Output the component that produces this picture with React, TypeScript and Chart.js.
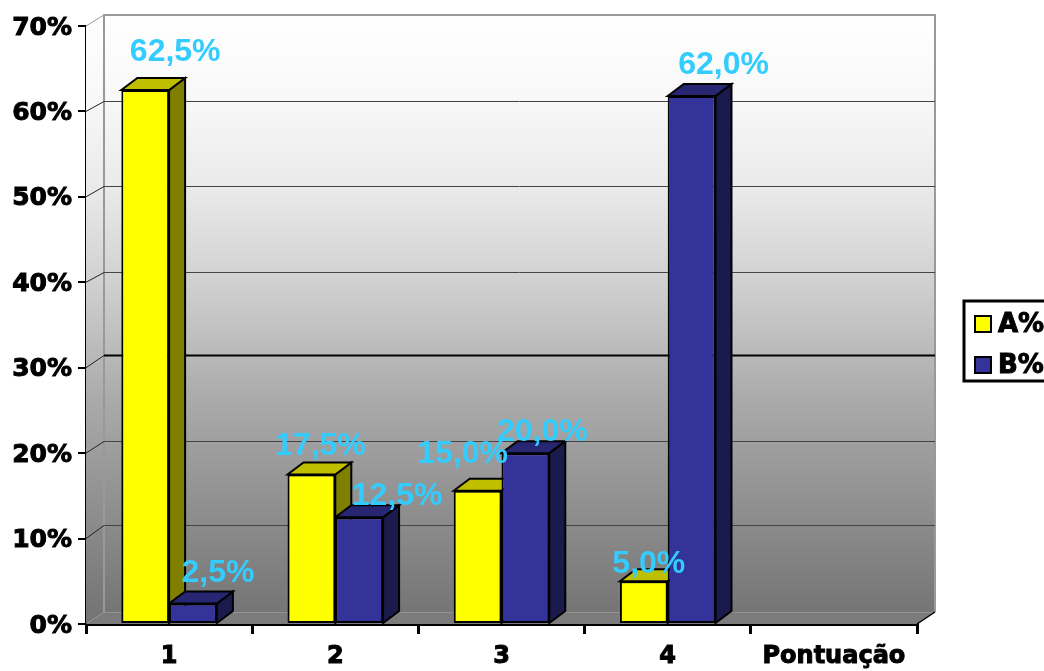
import React, { useEffect, useRef } from "react";
import { Chart, registerables } from "chart.js";

Chart.register(...registerables);

const categories = ["1", "2", "3", "4", "Pontuação"];
const seriesNames = ["A%", "B%"];
const valuesA = [62.5, 17.5, 15.6, 5, null];
const valuesB = [2.4, 12.5, 20, 61.8, null];
const labelsA = ["62,5%", "17,5%", "15,0%", "5,0%", ""];
const labelsB = ["2,5%", "12,5%", "20,0%", "62,0%", ""];
const gridValues = [10, 20, 30, 40, 50, 60];

// styling offsets, in pixels
const gridShift = [-13.6, -12, -12.7, -10.3, -10.9, -10.4];
const nudgeA = [[30, -29], [9, -20], [-15, -28], [5, -8]];
const nudgeB = [[25, -21], [38, -12], [17, -12], [32, -22]];

const FRONT = ["#FFFF00", "#333399"];
const TOP = ["#BFBF00", "#262673"];
const SIDE = ["#808000", "#1A1A4D"];
const WALL_DX = 18;
const WALL_DY = -12;
const BAR_DX = 16;
const BAR_DY = -12;

function poly(ctx: CanvasRenderingContext2D, pts: number[][], fill: string | CanvasGradient | null, stroke: string | null, lw = 1) {
  ctx.beginPath();
  pts.forEach((p, i) => (i ? ctx.lineTo(p[0], p[1]) : ctx.moveTo(p[0], p[1])));
  ctx.closePath();
  if (fill) {
    ctx.fillStyle = fill;
    ctx.fill();
  }
  if (stroke) {
    ctx.strokeStyle = stroke;
    ctx.lineWidth = lw;
    ctx.stroke();
  }
}

const walls = {
  id: "walls",
  beforeDraw(chart: any) {
    // tick labels sit slightly lower than Chart.js's centring puts them
    if (chart.$labelsShifted) return;
    chart.$labelsShifted = true;
    [chart.scales.x, chart.scales.y].forEach((s: any) => {
      s.getLabelItems(chart.chartArea).forEach((item: any) => {
        item.options.translation = [item.options.translation[0], item.options.translation[1] + 2];
      });
    });
  },
  beforeDatasetsDraw(chart: any) {
    const { ctx, chartArea: a, scales } = chart;
    const y = scales.y;
    ctx.save();
    const top = a.top + WALL_DY + 1;
    const bottom = a.bottom + WALL_DY;
    const grad = ctx.createLinearGradient(0, top, 0, bottom);
    grad.addColorStop(0, "#FFFFFF");
    grad.addColorStop(0.14, "#F8F8F8");
    grad.addColorStop(0.29, "#EAEAEA");
    grad.addColorStop(0.45, "#D0D0D0");
    grad.addColorStop(0.64, "#ABABAB");
    grad.addColorStop(1, "#757575");
    poly(ctx, [[a.left + WALL_DX, top], [a.right + WALL_DX, top], [a.right + WALL_DX, bottom], [a.left + WALL_DX, bottom]], grad, null);
    poly(ctx, [[a.left, a.top], [a.left + WALL_DX, top], [a.left + WALL_DX, bottom], [a.left, a.bottom]], grad, null);
    poly(ctx, [[a.left, a.bottom], [a.left + WALL_DX, bottom], [a.right + WALL_DX, bottom], [a.right, a.bottom]], "#7C7C7C", null);
    ctx.strokeStyle = "#999999";
    ctx.lineWidth = 2;
    ctx.beginPath();
    ctx.moveTo(a.left + WALL_DX, bottom);
    ctx.lineTo(a.left + WALL_DX, top);
    ctx.lineTo(a.right + WALL_DX, top);
    ctx.lineTo(a.right + WALL_DX, bottom);
    ctx.stroke();
    ctx.strokeStyle = "#929292";
    ctx.lineWidth = 1;
    ctx.beginPath();
    ctx.moveTo(a.left + WALL_DX, bottom + 0.5);
    ctx.lineTo(a.right + WALL_DX, bottom + 0.5);
    ctx.stroke();
    ctx.strokeStyle = "#000000";
    ctx.lineWidth = 1.5;
    ctx.beginPath();
    ctx.moveTo(a.right, a.bottom);
    ctx.lineTo(a.right + WALL_DX, bottom);
    ctx.stroke();
    gridValues.forEach((v, i) => {
      const py = Math.round(y.getPixelForValue(v) + gridShift[i]) + 0.5;
      ctx.strokeStyle = v === 30 ? "#000000" : "#444444";
      ctx.lineWidth = v === 30 ? 2 : 1;
      ctx.beginPath();
      ctx.moveTo(a.left + WALL_DX, py);
      ctx.lineTo(a.right + WALL_DX, py);
      ctx.stroke();
      ctx.strokeStyle = "#222222";
      ctx.lineWidth = 1;
      ctx.beginPath();
      ctx.moveTo(a.left, y.getPixelForValue(v));
      ctx.lineTo(a.left + WALL_DX, py);
      ctx.stroke();
    });
    ctx.strokeStyle = "#999999";
    ctx.lineWidth = 1;
    ctx.beginPath();
    ctx.moveTo(a.left, a.top);
    ctx.lineTo(a.left + WALL_DX, top);
    ctx.stroke();
    chart.data.datasets.forEach((_: any, d: number) => {
      chart.getDatasetMeta(d).data.forEach((bar: any, i: number) => {
        if (chart.data.datasets[d].data[i] == null) return;
        const { x, y: by, base, width } = bar.getProps(["x", "y", "base", "width"], true);
        const l = x - width / 2;
        const r = x + width / 2;
        poly(ctx, [[r, by], [r + BAR_DX, by + BAR_DY], [r + BAR_DX, base + BAR_DY], [r, base]], SIDE[d], "#000000", 2);
        poly(ctx, [[l, by], [l + BAR_DX, by + BAR_DY], [r + BAR_DX, by + BAR_DY], [r, by]], TOP[d], "#000000", 2);
      });
    });
    ctx.restore();
  },
  afterDatasetsDraw(chart: any) {
    const { ctx } = chart;
    ctx.save();
    ctx.font = "bold 32px 'Liberation Sans'";
    ctx.fillStyle = "#33CCFF";
    ctx.textAlign = "center";
    ctx.textBaseline = "alphabetic";
    [labelsA, labelsB].forEach((labels, d) => {
      const nudge = d === 0 ? nudgeA : nudgeB;
      chart.getDatasetMeta(d).data.forEach((bar: any, i: number) => {
        if (!labels[i]) return;
        const { x, y } = bar.getProps(["x", "y"], true);
        ctx.fillText(labels[i], x + nudge[i][0], y + nudge[i][1]);
      });
    });
    ctx.fillStyle = "#FFFFFF";
    ctx.strokeStyle = "#000000";
    ctx.lineWidth = 3;
    ctx.fillRect(964, 301, 90, 80);
    ctx.strokeRect(964, 301, 90, 80);
    ctx.font = "bold 26px 'DejaVu Sans'";
    ctx.textAlign = "left";
    ctx.textBaseline = "middle";
    seriesNames.forEach((name, d) => {
      const cy = 324 + d * 41;
      ctx.fillStyle = FRONT[d];
      ctx.lineWidth = 2;
      ctx.fillRect(975, cy - 8, 16, 16);
      ctx.strokeRect(975, cy - 8, 16, 16);
      ctx.fillStyle = "#000000";
      ctx.lineWidth = 1;
      ctx.strokeText(name, 998, cy + 1);
      ctx.fillText(name, 998, cy + 1);
    });
    ctx.restore();
  },
};

export default function App() {
  const ref = useRef<HTMLCanvasElement>(null);
  useEffect(() => {
    const chart = new Chart(ref.current as HTMLCanvasElement, {
      type: "bar",
      data: {
        labels: categories,
        datasets: [
          { label: seriesNames[0], data: valuesA, backgroundColor: FRONT[0], borderColor: "#000000", borderWidth: 2, borderSkipped: false },
          { label: seriesNames[1], data: valuesB, backgroundColor: FRONT[1], borderColor: "#000000", borderWidth: 2, borderSkipped: false },
        ],
      },
      options: {
        animation: false,
        responsive: false,
        layout: { padding: { left: 0, top: 26, right: 127, bottom: 0 } },
        categoryPercentage: 0.575,
        barPercentage: 1,
        plugins: { legend: { display: false }, tooltip: { enabled: false }, title: { display: false } },
        scales: {
          x: {
            afterFit: (s: any) => { s.height = 47; },
            border: { color: "#000000", width: 3 },
            grid: { drawOnChartArea: false, drawTicks: true, tickLength: 10, color: "#000000", lineWidth: 3, offset: true },
            ticks: { color: "#000000", padding: 6, maxRotation: 0, autoSkip: false, textStrokeColor: "#000000", textStrokeWidth: 1, font: { family: "'DejaVu Sans'", weight: "bold", size: 24 } },
          },
          y: {
            min: 0,
            max: 70,
            afterFit: (s: any) => { s.width = 86; },
            border: { color: "#000000", width: 2 },
            grid: { drawOnChartArea: false, drawTicks: true, tickLength: 8, color: "#000000", lineWidth: 2 },
            ticks: { stepSize: 10, color: "#000000", padding: 6, textStrokeColor: "#000000", textStrokeWidth: 1, font: { family: "'DejaVu Sans'", weight: "bold", size: 25 }, callback: (v: any) => v + "%" },
          },
        },
      } as any,
      plugins: [walls],
    });
    return () => chart.destroy();
  }, []);
  return (
    <div style={{ position: "fixed", left: 0, top: 0, width: 1044, height: 671, overflow: "hidden", background: "#FFFFFF" }}>
      <canvas ref={ref} width={1044} height={671} style={{ display: "block", filter: "blur(0.4px)" }} />
    </div>
  );
}
